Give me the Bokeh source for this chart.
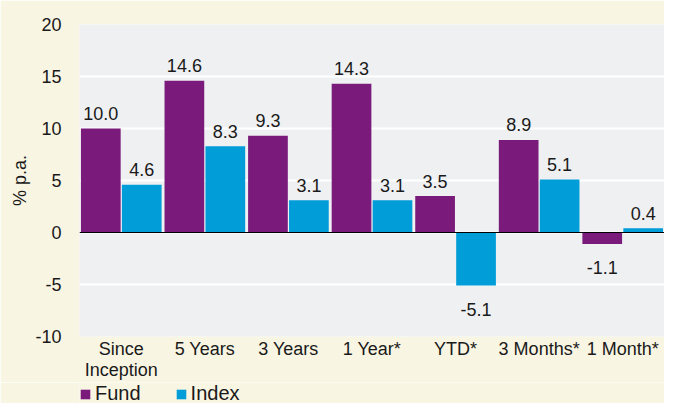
from bokeh.plotting import figure
from bokeh.layouts import column
from bokeh.models import ColumnDataSource, FactorRange, Span, Legend, LegendItem, FixedTicker
from bokeh.transform import dodge
from bokeh.core.properties import value
from bokeh.embed import file_html
from bokeh.resources import INLINE

categories = ["Since\nInception", "5 Years", "3 Years", "1 Year*", "YTD*", "3 Months*", "1 Month*"]
fund = [10.0, 14.6, 9.3, 14.3, 3.5, 8.9, -1.1]
index = [4.6, 8.3, 3.1, 3.1, -5.1, 5.1, 0.4]
series_names = ["Fund", "Index"]
y_ticks = [-10, -5, 0, 5, 10, 15, 20]
y_tick_labels = ["-10", "-5", "0", "5", "10", "15", "20"]

FONT = "Liberation Sans"
FS = "18px"
PURPLE = "#7a1a7a"
BLUE = "#009dd8"
CREAM = "#f8f5e3"
PLOTBG = "#eff0f2"
TXT = "#1a1a1a"

p = figure(width=664, height=382, x_range=FactorRange(*categories, range_padding=0),
           y_range=(-10, 20), output_backend="svg", toolbar_location=None,
           min_border_left=78, min_border_right=0, min_border_top=24, min_border_bottom=0)
p.background_fill_color = PLOTBG
p.border_fill_color = CREAM
p.outline_line_color = None

src = ColumnDataSource(dict(cat=categories, fund=fund, index=index))
fr = p.vbar(x=dodge("cat", -0.245, range=p.x_range), top="fund", bottom=0, width=0.475,
            source=src, fill_color=PURPLE, line_color=None)
ir = p.vbar(x=dodge("cat", 0.245, range=p.x_range), top="index", bottom=0, width=0.475,
            source=src, fill_color=BLUE, line_color=None)

p.add_layout(Span(location=0, dimension="width", line_color="black", line_width=1))


def label_source(vals, positive):
    keep = [(c, v) for c, v in zip(categories, vals) if (v >= 0) == positive]
    return ColumnDataSource(dict(cat=[c for c, _ in keep], v=[v for _, v in keep],
                                 t=[f"{v:.1f}" for _, v in keep]))


for vals, off in [(fund, -0.245), (index, 0.245)]:
    p.text(x=dodge("cat", off, range=p.x_range), y="v", text="t", source=label_source(vals, True),
           text_align="center", text_baseline="alphabetic", y_offset=-15,
           text_font=value(FONT), text_font_size=FS, text_color=TXT)
    p.text(x=dodge("cat", off, range=p.x_range), y="v", text="t", source=label_source(vals, False),
           text_align="center", text_baseline="top", y_offset=17,
           text_font=value(FONT), text_font_size=FS, text_color=TXT)

p.xgrid.grid_line_color = None
p.ygrid.grid_line_color = "white"
p.ygrid.grid_line_width = 2
p.ygrid.ticker = FixedTicker(ticks=y_ticks)

p.yaxis.ticker = FixedTicker(ticks=y_ticks)
p.yaxis.major_label_overrides = {t: l for t, l in zip(y_ticks, y_tick_labels)}
for ax in (p.xaxis[0], p.yaxis[0]):
    ax.axis_line_color = None
    ax.major_tick_line_color = None
    ax.minor_tick_line_color = None
    ax.major_tick_out = 0
    ax.major_tick_in = 0
    ax.minor_tick_out = 0
    ax.minor_tick_in = 0
    ax.major_label_text_font = FONT
    ax.major_label_text_font_size = FS
    ax.major_label_text_color = TXT
p.yaxis.major_label_standoff = 18
p.xaxis.major_label_standoff = 2
p.xaxis.major_label_text_line_height = 1.05
p.yaxis.axis_label = "% p.a."
p.yaxis.axis_label_text_font = FONT
p.yaxis.axis_label_text_font_size = FS
p.yaxis.axis_label_text_font_style = "normal"
p.yaxis.axis_label_text_color = TXT
p.yaxis.axis_label_standoff = 2

# legend strip below the chart
lf = figure(width=664, height=21, x_range=(0, 1), y_range=(0, 1), output_backend="svg",
            toolbar_location=None, min_border=0, min_border_left=79)
lf.background_fill_color = CREAM
lf.border_fill_color = CREAM
lf.outline_line_color = None
lf.axis.visible = False
lf.grid.visible = False
hidden = ColumnDataSource(dict(x=[5], top=[1]))
lr_f = lf.vbar(x="x", top="top", width=0.1, source=hidden, fill_color=PURPLE, line_color=None)
lr_i = lf.vbar(x="x", top="top", width=0.1, source=hidden, fill_color=BLUE, line_color=None)
legend = Legend(items=[LegendItem(label=series_names[0], renderers=[lr_f]),
                       LegendItem(label=series_names[1], renderers=[lr_i])],
                location="top_left", orientation="horizontal",
                background_fill_alpha=0, border_line_color=None,
                glyph_width=12, glyph_height=12, label_standoff=4, spacing=34,
                padding=0, margin=0, label_height=14,
                label_text_font=FONT, label_text_font_size="20px", label_text_color=TXT)
lf.add_layout(legend, "center")

open("out.html", "w").write(file_html(column(p, lf, spacing=0), INLINE))
